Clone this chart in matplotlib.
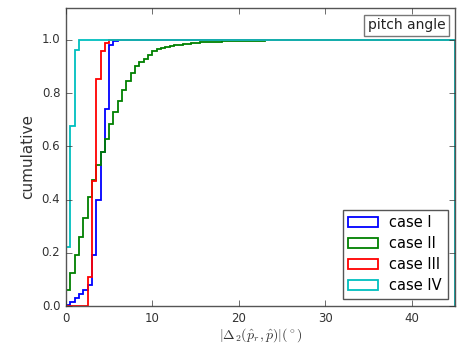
import matplotlib
matplotlib.use('Agg')
import matplotlib.pyplot as plt
import numpy as np

plt.style.use('classic')

# cumulative fraction per 0.5 deg bin
bin_width = 0.5
n_bins = 90

case_1 = [0.005, 0.015, 0.03, 0.045, 0.06, 0.08, 0.19, 0.40, 0.58, 0.74,
          0.98, 0.995] + [1.0] * 78
case_2 = [0.06, 0.123, 0.19, 0.26, 0.33, 0.41, 0.475, 0.53, 0.58, 0.626,
          0.683, 0.73, 0.77, 0.81, 0.845, 0.875, 0.90, 0.915, 0.93, 0.945,
          0.957, 0.965, 0.970, 0.974, 0.977, 0.980, 0.982, 0.984, 0.986, 0.988,
          0.990, 0.991, 0.992, 0.992, 0.993, 0.993, 0.994, 0.994, 0.995, 0.995,
          0.996, 0.996, 0.996, 0.997, 0.997, 0.997, 0.998, 0.998, 0.998, 0.998,
          0.999, 0.999, 0.999, 0.999, 0.999, 0.999, 0.999, 0.999, 0.999,
          0.999] + [1.0] * 30
case_3 = [0.0, 0.0, 0.0, 0.0, 0.0, 0.11, 0.47, 0.853, 0.96, 0.99] + [1.0] * 80
case_4 = [0.22, 0.675, 0.963] + [1.0] * 87

labels = ['case I', 'case II', 'case III', 'case IV']
colors = ['b', 'g', 'r', 'c']

edges = np.arange(n_bins + 1) * bin_width

fig = plt.figure(figsize=(4.61, 3.45), dpi=100, facecolor='white')
ax = fig.add_axes([0.143, 0.113, 0.844, 0.864])

for values, label, color in zip([case_1, case_2, case_3, case_4], labels, colors):
    ax.hist(edges[:-1], bins=edges, weights=values, histtype='step',
            color=color, label=label, lw=1.3)

ax.set_xlim(0, 45)
ax.set_ylim(0, 1.12)
ax.set_xticks([0, 10, 20, 30, 40])
ax.set_yticks([0.0, 0.2, 0.4, 0.6, 0.8, 1.0])
ax.tick_params(labelsize=8.5, colors='#333333')
for s in ax.spines.values():
    s.set_color('#555555')

ax.set_xlabel(r'$|\Delta_2(\hat{p}_r,\hat{p})|(^\circ)$', fontsize=10,
              color='#333333', labelpad=1)
ax.set_ylabel('cumulative', fontsize=11, color='#333333')

leg = ax.legend(loc='lower right', fontsize=10.5, handlelength=2.0,
                borderaxespad=0.5, labelspacing=0.4, borderpad=0.4)
leg.get_frame().set_edgecolor('#555555')

ax.text(0.975, 0.965, 'pitch angle', transform=ax.transAxes, ha='right', va='top',
        fontsize=10, color='#222222',
        bbox=dict(boxstyle='square,pad=0.25', fc='white', ec='#777777'))

fig.savefig('out.png', dpi=100, facecolor='white')
